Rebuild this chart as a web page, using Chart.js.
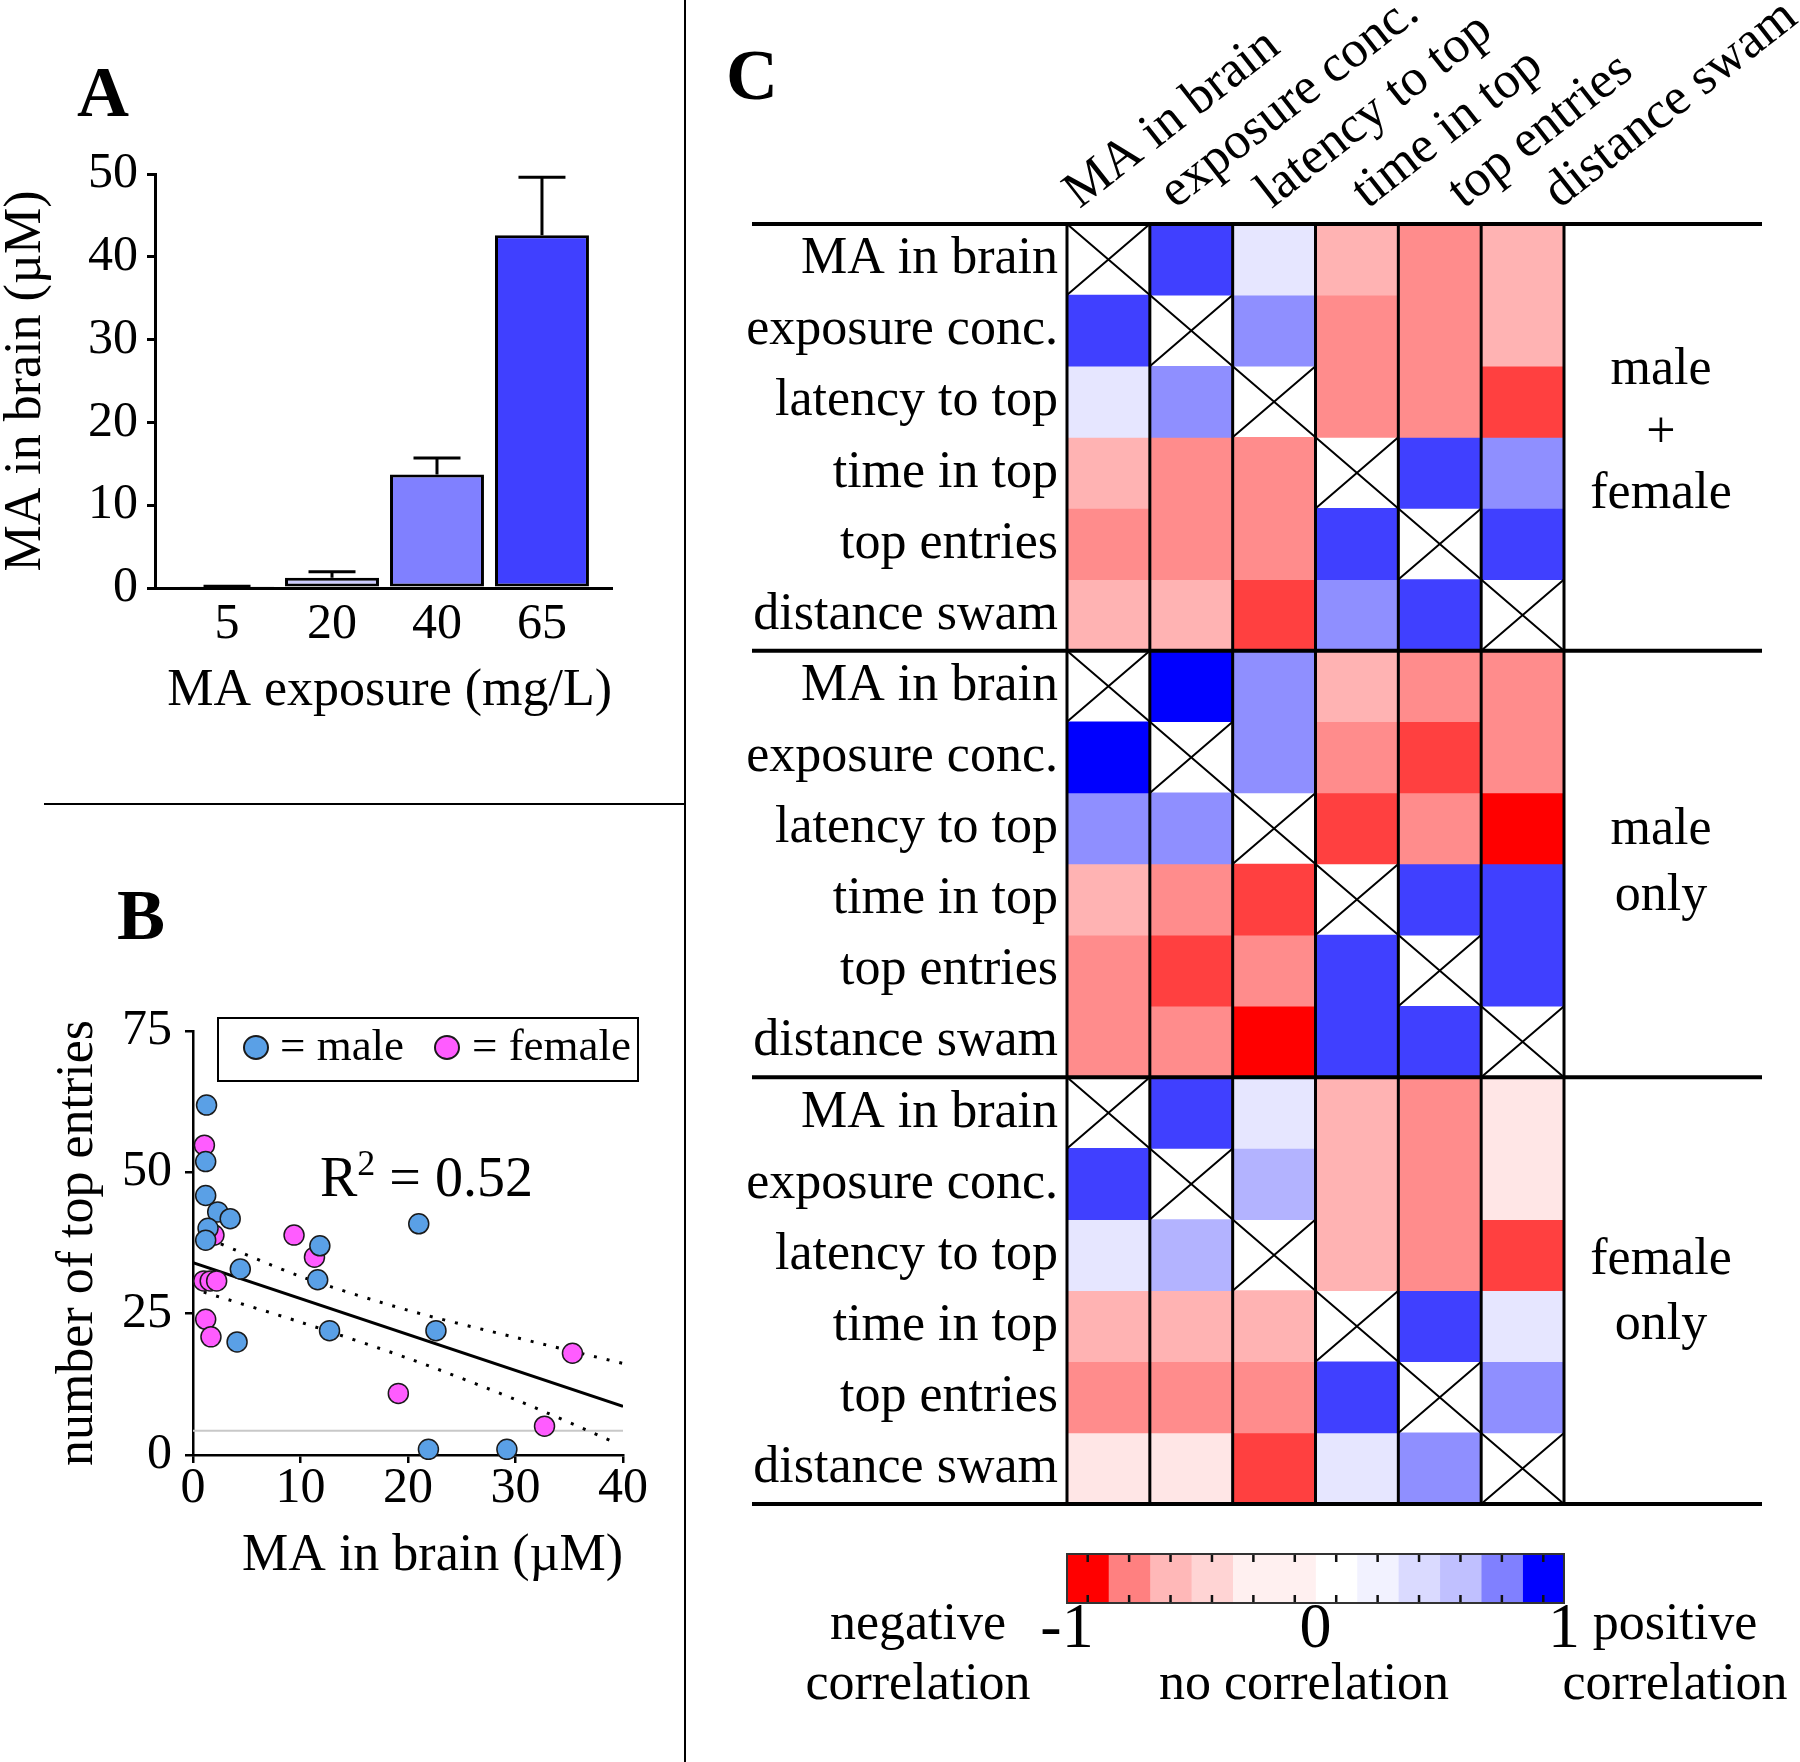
<!DOCTYPE html>
<html>
<head>
<meta charset="utf-8">
<title>MA exposure, brain MA and behaviour correlations</title>
<script src="https://cdn.jsdelivr.net/npm/chart.js@4.4.1/dist/chart.umd.min.js"></script>
<style>
  html, body { margin:0; padding:0; background:#fff; }
  #fig { position:relative; width:1800px; height:1762px; background:#fff; overflow:hidden;
         font-family:'Liberation Serif','Times New Roman',serif; color:#000; }
  #fig canvas { position:absolute; }
  .lbl { position:absolute; white-space:nowrap; line-height:1; transform:translate(-50%,-50%); font-size:52px; }
  .panel { position:absolute; white-space:nowrap; line-height:1; transform:translate(-50%,-50%); font-size:72px; font-weight:bold; }
  .rule { position:absolute; background:#000; }
  .dot { position:absolute; width:26px; height:25px; border-radius:50%; border:2px solid #1a1a1a; box-sizing:border-box; }
  .lt { position:absolute; top:4px; white-space:nowrap; line-height:1; font-size:45px; }
</style>
</head>
<body>
<div id="fig">
  <canvas id="chartA" width="690" height="650" style="left:0px;top:100px;"></canvas>
  <canvas id="chartB" width="690" height="750" style="left:0px;top:850px;"></canvas>
  <canvas id="chartC" width="1110" height="1530" style="left:690px;top:0px;"></canvas>
  <canvas id="chartCB" width="660" height="140" style="left:990px;top:1530px;"></canvas>

  <div class="rule" style="left:684px;top:0;width:2px;height:1762px;"></div>
  <div class="rule" style="left:44px;top:803px;width:642px;height:2px;"></div>

  <div class="panel" style="left:103px;top:92px;">A</div>
  <div class="panel" style="left:141px;top:915px;">B</div>
  <div class="panel" style="left:752px;top:75px;">C</div>

  <div style="position:absolute;left:217px;top:1017px;width:422px;height:65px;border:2px solid #000;box-sizing:border-box;">
    <span class="dot" style="left:24px;top:16px;background:#5aa0e6;"></span>
    <span class="lt" style="left:61px;">= male</span>
    <span class="dot" style="left:215px;top:16px;background:#ff5cff;"></span>
    <span class="lt" style="left:253px;">= female</span>
  </div>
  <div style="position:absolute;left:320px;top:1149px;font-size:56px;line-height:1;white-space:nowrap;">R<span style="font-size:36px;position:relative;top:-21px;">2</span> = 0.52</div>

  <div class="lbl" style="left:1661px;top:367px;">male</div>
  <div class="lbl" style="left:1661px;top:430px;">+</div>
  <div class="lbl" style="left:1661px;top:491px;">female</div>
  <div class="lbl" style="left:1661px;top:827px;">male</div>
  <div class="lbl" style="left:1661px;top:893px;">only</div>
  <div class="lbl" style="left:1661px;top:1257px;">female</div>
  <div class="lbl" style="left:1661px;top:1322px;">only</div>

  <div class="lbl" style="left:918px;top:1622px;">negative</div>
  <div class="lbl" style="left:918px;top:1682px;">correlation</div>
  <div class="lbl" style="left:1304px;top:1682px;">no correlation</div>
  <div class="lbl" style="left:1675px;top:1622px;">positive</div>
  <div class="lbl" style="left:1675px;top:1682px;">correlation</div>
</div>

<script>
const FONT = "'Liberation Serif', 'Times New Roman', serif";

// ---------- Panel A data ----------
const exposureLevels = ['5', '20', '40', '65'];
const brainMA = [0.15, 1.25, 13.7, 42.6];
const brainSEM = [0.05, 0.72, 2.0, 7.0];
const barFill = ['#ffffff', '#ccccff', '#8080ff', '#4040ff'];

// ---------- Panel B data ----------
const maleMA      = [1.26, 1.18, 1.18, 2.3, 3.46, 1.4, 1.18, 4.4, 4.1, 11.8, 11.6, 12.7, 21.0, 22.6, 21.9, 29.2];
const maleEntries = [61.9, 51.9, 45.9, 43.0, 41.8, 40.1, 38.0, 32.9, 20.0, 37.0, 31.0, 22.0, 40.9, 22.0, 1.0, 1.0];
const femaleMA      = [1.06, 1.95, 1.0, 1.6, 2.2, 1.18, 1.67, 9.4, 11.3, 19.1, 32.7, 35.3];
const femaleEntries = [54.8, 38.9, 30.8, 30.8, 30.8, 24.0, 20.9, 38.9, 35.0, 10.9, 5.1, 18.0];
const fitMA = [0, 40];
const fitEntries = [34.0, 8.6];
const ciUpperMA = [1.5, 10, 20, 30, 40];
const ciUpperEntries = [38.2, 31.6, 25.6, 20.8, 16.2];
const ciLowerMA = [1, 10, 20, 30, 39.5];
const ciLowerEntries = [28.8, 23.5, 17.1, 9.8, 2.0];
const refLineMA = [0, 40];
const refLineEntries = [4.3, 4.3];

// ---------- Panel C data ----------
const measures = ['MA in brain', 'exposure conc.', 'latency to top', 'time in top', 'top entries', 'distance swam'];
const groupNames = ['male + female', 'male only', 'female only'];
const corrMaleFemale = [
  [null, 0.75, 0.10, -0.30, -0.45, -0.30],
  [0.75, null, 0.44, -0.45, -0.45, -0.30],
  [0.10, 0.44, null, -0.45, -0.45, -0.75],
  [-0.30, -0.45, -0.45, null, 0.75, 0.44],
  [-0.45, -0.45, -0.45, 0.75, null, 0.75],
  [-0.30, -0.30, -0.75, 0.44, 0.75, null]
];
const corrMaleOnly = [
  [null, 1.00, 0.44, -0.30, -0.45, -0.45],
  [1.00, null, 0.44, -0.45, -0.75, -0.45],
  [0.44, 0.44, null, -0.75, -0.45, -1.00],
  [-0.30, -0.45, -0.75, null, 0.75, 0.75],
  [-0.45, -0.75, -0.45, 0.75, null, 0.75],
  [-0.45, -0.45, -1.00, 0.75, 0.75, null]
];
const corrFemaleOnly = [
  [null, 0.75, 0.10, -0.30, -0.45, -0.10],
  [0.75, null, 0.30, -0.30, -0.45, -0.10],
  [0.10, 0.30, null, -0.30, -0.45, -0.75],
  [-0.30, -0.30, -0.30, null, 0.75, 0.10],
  [-0.45, -0.45, -0.45, 0.75, null, 0.44],
  [-0.10, -0.10, -0.75, 0.10, 0.44, null]
];
const cbEdges = [-1, -0.8333, -0.6667, -0.5, -0.3333, -0.1667, 0, 0.1667, 0.3333, 0.5, 0.6667, 0.8333, 1];
const cbColors = ['#ff0000', '#ff8080', '#ffb8b8', '#ffd4d4', '#fff0f0', '#fff0f0',
                  '#ffffff', '#f2f2ff', '#dadaff', '#c0c0ff', '#8080ff', '#0000ff'];
const cbTickValues = [-1, 0, 1];

// ---------- helpers ----------
Chart.defaults.font.family = FONT;
Chart.defaults.color = '#000';

function corrColor(v) {
  if (v === null) return '#ffffff';
  const c = Math.round(255 * (1 - Math.abs(v)));
  return v >= 0 ? `rgb(${c},${c},255)` : `rgb(255,${c},${c})`;
}
function zeroPad(s) { s.paddingLeft = 0; s.paddingRight = 0; s.paddingTop = 0; s.paddingBottom = 0; }
const baseOpts = { responsive: false, animation: false, events: [],
  plugins: { legend: { display: false }, tooltip: { enabled: false } } };

// ---------- Panel A ----------
const errorBarPlugin = {
  id: 'errorBars',
  afterDatasetsDraw(chart) {
    const { ctx, scales: { x, y } } = chart;
    const meta = chart.getDatasetMeta(0);
    ctx.save();
    ctx.strokeStyle = '#000';
    ctx.lineWidth = 3;
    brainMA.forEach((m, i) => {
      const px = x.getPixelForValue(i);
      const yTop = y.getPixelForValue(m + brainSEM[i]);
      const yBar = y.getPixelForValue(m);
      const half = meta.data[i].width / 4;
      ctx.beginPath();
      ctx.moveTo(px, yBar); ctx.lineTo(px, yTop);
      ctx.moveTo(px - half, yTop); ctx.lineTo(px + half, yTop);
      ctx.stroke();
    });
    ctx.restore();
  }
};

new Chart(document.getElementById('chartA'), {
  type: 'bar',
  data: { datasets: [{
    label: 'MA in brain',
    data: exposureLevels.map((_, i) => ({ x: i, y: brainMA[i] })),
    backgroundColor: barFill, borderColor: '#000', borderWidth: 3, borderSkipped: false,
    barPercentage: 0.895, categoryPercentage: 1
  }]},
  options: Object.assign({}, baseOpts, {
    layout: { padding: { top: 74, right: 78, left: 0, bottom: 0 } },
    scales: {
      x: { type: 'linear', offset: false, min: -0.686, max: 3.667,
        afterBuildTicks: s => { s.ticks = exposureLevels.map((_, i) => ({ value: i })); },
        ticks: { callback: v => exposureLevels[Math.round(v)], font: { size: 50, lineHeight: 1 }, color: '#000', padding: 12, autoSkip: false, maxRotation: 0 },
        grid: { display: false, drawTicks: false, offset: false },
        border: { display: true, color: '#000', width: 3 },
        title: { display: true, text: 'MA exposure (mg/L)', align: 'end', color: '#000', font: { size: 52, lineHeight: 1 }, padding: { top: 0, bottom: 33 } },
        afterFit: s => { s.height = 162; zeroPad(s); } },
      y: { min: 0, max: 50,
        ticks: { stepSize: 10, font: { size: 50, lineHeight: 1 }, color: '#000', padding: 9 },
        grid: { drawOnChartArea: false, drawTicks: true, tickLength: 8, color: '#000', lineWidth: 3 },
        border: { display: true, color: '#000', width: 3 },
        title: { display: true, text: 'MA in brain (µM)', color: '#000', font: { size: 52, lineHeight: 1 }, padding: 0 },
        afterFit: s => { s.width = 155; zeroPad(s); } }
    }
  }),
  plugins: [errorBarPlugin]
});

// ---------- Panel B ----------
const toXY = (xs, ys) => xs.map((x, i) => ({ x, y: ys[i] }));
new Chart(document.getElementById('chartB'), {
  type: 'scatter',
  data: { datasets: [
    { label: 'male', data: toXY(maleMA, maleEntries), backgroundColor: '#5aa0e6', borderColor: '#1a1a1a', borderWidth: 1.5, pointRadius: 10, clip: false },
    { label: 'female', data: toXY(femaleMA, femaleEntries), backgroundColor: '#ff5cff', borderColor: '#1a1a1a', borderWidth: 1.5, pointRadius: 10, clip: false },
    { type: 'line', label: 'fit', data: toXY(fitMA, fitEntries), borderColor: '#000', borderWidth: 3, pointRadius: 0, fill: false },
    { type: 'line', label: 'upper 95% CI', data: toXY(ciUpperMA, ciUpperEntries), borderColor: '#000', borderWidth: 3, borderDash: [3, 10], pointRadius: 0, tension: 0.3, fill: false },
    { type: 'line', label: 'lower 95% CI', data: toXY(ciLowerMA, ciLowerEntries), borderColor: '#000', borderWidth: 3, borderDash: [3, 10], pointRadius: 0, tension: 0.3, fill: false },
    { type: 'line', label: 'reference', data: toXY(refLineMA, refLineEntries), borderColor: '#c8c8c8', borderWidth: 2, pointRadius: 0, fill: false }
  ]},
  options: Object.assign({}, baseOpts, {
    layout: { padding: { top: 181, right: 67, left: 0, bottom: 0 } },
    scales: {
      x: { type: 'linear', offset: false, min: 0, max: 40,
        ticks: { stepSize: 10, font: { size: 50, lineHeight: 1 }, color: '#000', padding: 1 },
        grid: { drawOnChartArea: false, drawTicks: true, tickLength: 8, color: '#000', lineWidth: 2.5 },
        border: { display: true, color: '#000', width: 2.5 },
        title: { display: true, text: 'MA in brain (µM)', align: 'end', color: '#000', font: { size: 52, lineHeight: 1 }, padding: { top: 0, bottom: 18 } },
        afterFit: s => { s.height = 145; zeroPad(s); } },
      y: { type: 'linear', min: 0, max: 75,
        ticks: { stepSize: 25, font: { size: 50, lineHeight: 1 }, color: '#000', padding: 13 },
        grid: { drawOnChartArea: false, drawTicks: true, tickLength: 8, color: '#000', lineWidth: 2.5 },
        border: { display: true, color: '#000', width: 2.5 },
        title: { display: true, text: 'number of top entries', color: '#000', font: { size: 52, lineHeight: 1 }, padding: { top: 52, bottom: 0 } },
        afterFit: s => { s.width = 193; zeroPad(s); } }
    }
  })
});

// ---------- Panel C heatmap ----------
const blocks = [corrMaleFemale, corrMaleOnly, corrFemaleOnly];
const nM = measures.length;
const heatDatasets = [];
blocks.forEach((mat, b) => mat.forEach((row, i) => {
  const r = b * nM + i;
  heatDatasets.push({
    label: groupNames[b] + ': ' + measures[i],
    data: row.map(v => (v === null ? null : [r, r + 1])),
    backgroundColor: row.map(corrColor),
    borderWidth: 0
  });
}));

const heatDecor = {
  id: 'heatDecor',
  afterDatasetsDraw(chart) {
    const { ctx, chartArea: ca, scales: { x, y } } = chart;
    ctx.save();
    ctx.strokeStyle = '#000';
    ctx.lineWidth = 2;
    blocks.forEach((mat, b) => mat.forEach((row, i) => row.forEach((v, c) => {
      if (v !== null) return;
      const x0 = x.getPixelForValue(c - 0.5), x1 = x.getPixelForValue(c + 0.5);
      const y0 = y.getPixelForValue(b * nM + i), y1 = y.getPixelForValue(b * nM + i + 1);
      ctx.beginPath();
      ctx.moveTo(x0, y0); ctx.lineTo(x1, y1);
      ctx.moveTo(x1, y0); ctx.lineTo(x0, y1);
      ctx.stroke();
    })));
    ctx.lineWidth = 3;
    for (let c = 0; c <= nM; c++) {
      const px = x.getPixelForValue(c - 0.5);
      ctx.beginPath(); ctx.moveTo(px, ca.top); ctx.lineTo(px, ca.bottom); ctx.stroke();
    }
    ctx.lineWidth = 4;
    for (let b = 0; b <= blocks.length; b++) {
      const py = y.getPixelForValue(b * nM);
      ctx.beginPath(); ctx.moveTo(ca.left - 315, py); ctx.lineTo(ca.right + 198, py); ctx.stroke();
    }
    ctx.restore();
  }
};

new Chart(document.getElementById('chartC'), {
  type: 'bar',
  data: { labels: measures, datasets: heatDatasets },
  options: Object.assign({}, baseOpts, {
    layout: { padding: { left: 0, right: 236, top: 0, bottom: 26 } },
    datasets: { bar: { grouped: false, barPercentage: 1, categoryPercentage: 1 } },
    scales: {
      x: { type: 'category', display: false, offset: true },
      xl: { type: 'linear', position: 'top', offset: false, min: -0.375, max: 4.802,
        afterBuildTicks: s => { s.ticks = measures.map((_, i) => ({ value: i })); },
        ticks: { callback: v => measures[Math.round(v)], font: { size: 52, lineHeight: 1 }, color: '#000',
                 padding: 5, minRotation: 38, maxRotation: 38, autoSkip: false },
        grid: { display: false, drawTicks: false, offset: false },
        border: { display: false },
        afterFit: s => { s.height = 224; zeroPad(s); } },
      y: { type: 'linear', min: 0, max: blocks.length * nM, reverse: true,
        afterBuildTicks: s => { s.ticks = Array.from({ length: blocks.length * nM }, (_, i) => ({ value: i + 0.5 })); },
        ticks: { callback: v => measures[Math.floor(v) % nM], font: { size: 52, lineHeight: 1 }, color: '#000', padding: 9, autoSkip: false },
        grid: { display: false, drawTicks: false },
        border: { display: false },
        afterFit: s => { s.width = 377; zeroPad(s); } }
    }
  }),
  plugins: [heatDecor]
});

// ---------- Panel C colour bar ----------
const cbDecor = {
  id: 'cbDecor',
  afterDatasetsDraw(chart) {
    const { ctx, chartArea: ca, scales: { x } } = chart;
    ctx.save();
    ctx.strokeStyle = '#111';
    ctx.lineWidth = 2.5;
    for (let i = 0; i < cbColors.length; i++) {
      const px = x.getPixelForValue((cbEdges[i] + cbEdges[i + 1]) / 2);
      ctx.beginPath();
      ctx.moveTo(px, ca.top); ctx.lineTo(px, ca.top + 8);
      ctx.moveTo(px, ca.bottom - 8); ctx.lineTo(px, ca.bottom);
      ctx.stroke();
    }
    ctx.strokeStyle = '#333';
    ctx.lineWidth = 2;
    ctx.strokeRect(ca.left, ca.top, ca.right - ca.left, ca.bottom - ca.top);
    ctx.restore();
  }
};

new Chart(document.getElementById('chartCB'), {
  type: 'bar',
  data: { labels: ['r'], datasets: cbColors.map((c, i) => ({
    label: 'band ' + i, data: [[cbEdges[i], cbEdges[i + 1]]], backgroundColor: c, borderWidth: 0 })) },
  options: Object.assign({}, baseOpts, {
    indexAxis: 'y',
    layout: { padding: { left: 77, right: 86, top: 24, bottom: 0 } },
    datasets: { bar: { grouped: false, barPercentage: 1, categoryPercentage: 1 } },
    scales: {
      y: { type: 'category', display: false },
      x: { type: 'linear', offset: false, min: -1, max: 1,
        afterBuildTicks: s => { s.ticks = cbTickValues.map(v => ({ value: v })); },
        ticks: { callback: v => String(v), font: { size: 64, lineHeight: 0.8 }, color: '#000', padding: 2, autoSkip: false, maxRotation: 0 },
        grid: { display: false, drawTicks: false },
        border: { display: false },
        afterFit: s => { s.height = 67; zeroPad(s); } }
    }
  }),
  plugins: [cbDecor]
});
</script>
</body>
</html>
